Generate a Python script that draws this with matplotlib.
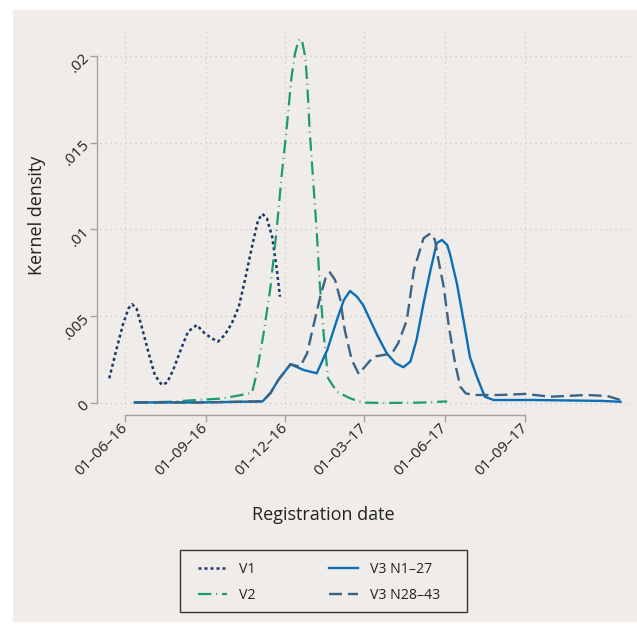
import numpy as np
import matplotlib
matplotlib.use("Agg")
import matplotlib.pyplot as plt
import matplotlib.dates as mdates
from matplotlib.patches import Rectangle

plt.rcParams['font.family'] = ['Open Sans', 'DejaVu Sans']

# days since 01-06-2016, kernel density values
v1_days = [-18, -10, -2, 4, 8, 13, 19, 27, 34, 42, 48, 55, 65, 72, 82, 91, 99, 106,
           114, 122, 130, 137, 145, 152, 157, 162, 168, 173, 177]
v1_dens = [0.00142, 0.00305, 0.00459, 0.00545, 0.00569, 0.00545, 0.00440, 0.00286,
           0.00161, 0.00104, 0.00117, 0.00190, 0.00324, 0.00411, 0.00449, 0.00401,
           0.00373, 0.00353, 0.00392, 0.00459, 0.00555, 0.00708, 0.00900, 0.01054,
           0.01089, 0.01064, 0.00958, 0.00785, 0.00612]

v2_days = [11, 53, 80, 110, 133, 145, 150, 158, 166, 173, 179, 185, 190, 194, 198, 200,
           202, 206, 208, 211, 215, 219, 222, 227, 232, 242, 257, 272, 299, 337, 368]
v2_dens = [0.00003, 0.00007, 0.00017, 0.00025, 0.00046, 0.00058, 0.00161, 0.00392,
           0.00661, 0.00987, 0.01313, 0.01601, 0.01870, 0.02010, 0.02085, 0.02097,
           0.02090, 0.01990, 0.01851, 0.01563, 0.01275, 0.00987, 0.00718, 0.00392,
           0.00142, 0.00065, 0.00027, 0.00002, 0.0, 0.00002, 0.00009]

v3a_days = [11, 86, 157, 166, 175, 189, 204, 219, 231, 242, 250, 257, 265, 272, 280,
            288, 299, 309, 318, 326, 333, 341, 349, 356, 362, 368, 371, 379, 387, 394,
            402, 411, 421, 467, 543, 566]
v3a_dens = [0.00003, 0.00003, 0.00009, 0.00056, 0.00132, 0.00223, 0.00190, 0.00171,
            0.00305, 0.00478, 0.00593, 0.00645, 0.00612, 0.00564, 0.00478, 0.00392,
            0.00286, 0.00229, 0.00206, 0.00238, 0.00363, 0.00574, 0.00766, 0.00920,
            0.00939, 0.00910, 0.00862, 0.00691, 0.00467, 0.00265, 0.00150, 0.00036,
            0.00017, 0.00017, 0.00012, 0.00007]

v3b_days = [11, 86, 157, 166, 175, 189, 200, 208, 215, 223, 229, 234, 240, 246, 251,
            259, 267, 274, 284, 295, 305, 312, 322, 330, 341, 349, 354, 358, 364,
            370, 377, 383, 389, 398, 429, 457, 486, 527, 551, 566]
v3b_dens = [0.00003, 0.00003, 0.00009, 0.00056, 0.00132, 0.00223, 0.00209, 0.00286,
            0.00440, 0.00612, 0.00718, 0.00752, 0.00708, 0.00593, 0.00420, 0.00248,
            0.00167, 0.00209, 0.00267, 0.00276, 0.00286, 0.00344, 0.00478, 0.00766,
            0.00949, 0.00977, 0.00939, 0.00824, 0.00670, 0.00439, 0.00229, 0.00094,
            0.00056, 0.00046, 0.00046, 0.00052, 0.00036, 0.00046, 0.00040, 0.00017]

labels = ['V1', 'V2', 'V3 N1–27', 'V3 N28–43']
colors = ['#1b3768', '#1c9b6f', '#0b6fb8', '#3b6385']
tick_dates = ['2016-06-01', '2016-09-01', '2016-12-01', '2017-03-01', '2017-06-01', '2017-09-01']
yticks = [0, 0.005, 0.01, 0.015, 0.02]
ytick_labels = ['0', '.005', '.01', '.015', '.02']

bg = '#efece9'
W, H = 637, 624
fig = plt.figure(figsize=(W / 100, H / 100), dpi=100)
fig.patch.set_facecolor('white')
fig.patches.append(Rectangle((13 / W, 2 / H), 1 - 13 / W, (622 - 10) / H,
                             transform=fig.transFigure, facecolor=bg, edgecolor='none', zorder=-10))

ax = fig.add_axes([100 / W, (H - 408) / H, 531 / W, 379 / H])
ax.set_facecolor('none')

base = mdates.date2num(np.datetime64('2016-06-01'))

ax.plot(base + np.array(v1_days), v1_dens, color=colors[0], lw=1.8,
        dashes=(1.2, 1.2), label=labels[0])
ax.plot(base + np.array(v2_days), v2_dens, color=colors[1], lw=1.6,
        dashes=(6, 2.2, 0.4, 2.2), label=labels[1])
ax.plot(base + np.array(v3a_days), v3a_dens, color=colors[2], lw=1.7,
        label=labels[2])
ax.plot(base + np.array(v3b_days), v3b_dens, color=colors[3], lw=1.7,
        dashes=(5.5, 2.5), label=labels[3])

ticks = [mdates.date2num(np.datetime64(d)) for d in tick_dates]
ax.set_xlim(base - 28.6, base + 578)
ax.set_ylim(-0.00029, 0.02154)
ax.set_xticks(ticks)
ax.xaxis.set_major_formatter(mdates.DateFormatter('%d–%m–%y'))
ax.set_yticks(yticks)
ax.set_yticklabels(ytick_labels)

for s in ['top', 'right']:
    ax.spines[s].set_visible(False)
ax.spines['left'].set_bounds(0, 0.02)
ax.spines['left'].set_position(('outward', 2.2))
ax.spines['bottom'].set_bounds(ticks[0], ticks[-1])
ax.spines['bottom'].set_position(('outward', 5))
for s in ['left', 'bottom']:
    ax.spines[s].set_color('#a3a3a3')
    ax.spines[s].set_linewidth(1.0)

ax.tick_params(axis='both', length=5, width=1, color='#a3a3a3', labelsize=11, labelcolor='#222222')
ax.tick_params(axis='y', pad=2)
ax.tick_params(axis='x', pad=3)
for t in ax.get_yticklabels():
    t.set_rotation(45)
    t.set_ha('right')
    t.set_va('center')
    t.set_rotation_mode('anchor')
for t in ax.get_xticklabels():
    t.set_rotation(45)
    t.set_ha('right')
    t.set_va('center')
    t.set_rotation_mode('anchor')

ax.grid(True, color='#c9c9c9', lw=0.9, linestyle=(0, (1, 3)))
ax.set_axisbelow(True)

fig.text(323 / W, 1 - 515 / H, 'Registration date', ha='center', va='center', fontsize=13, color='#222222')
fig.text(37 / W, 1 - 215 / H, 'Kernel density', ha='center', va='center', rotation=90,
         fontsize=13, color='#222222')

# legend frame drawn by hand, entries inside
fig.patches.append(Rectangle((180 / W, 1 - 612 / H), 287 / W, 62 / H, transform=fig.transFigure,
                             facecolor='none', edgecolor='#333333', lw=1.0, zorder=5))
fig.legend(loc='upper left', bbox_to_anchor=(198 / W, 1 - 562 / H), ncol=2, frameon=False,
           fontsize=10.2, handlelength=2.05, handletextpad=0.85, columnspacing=5.2,
           labelspacing=0.75, borderpad=0, borderaxespad=0, labelcolor='#222222')

fig.savefig('out.png', dpi=100, facecolor='white')
